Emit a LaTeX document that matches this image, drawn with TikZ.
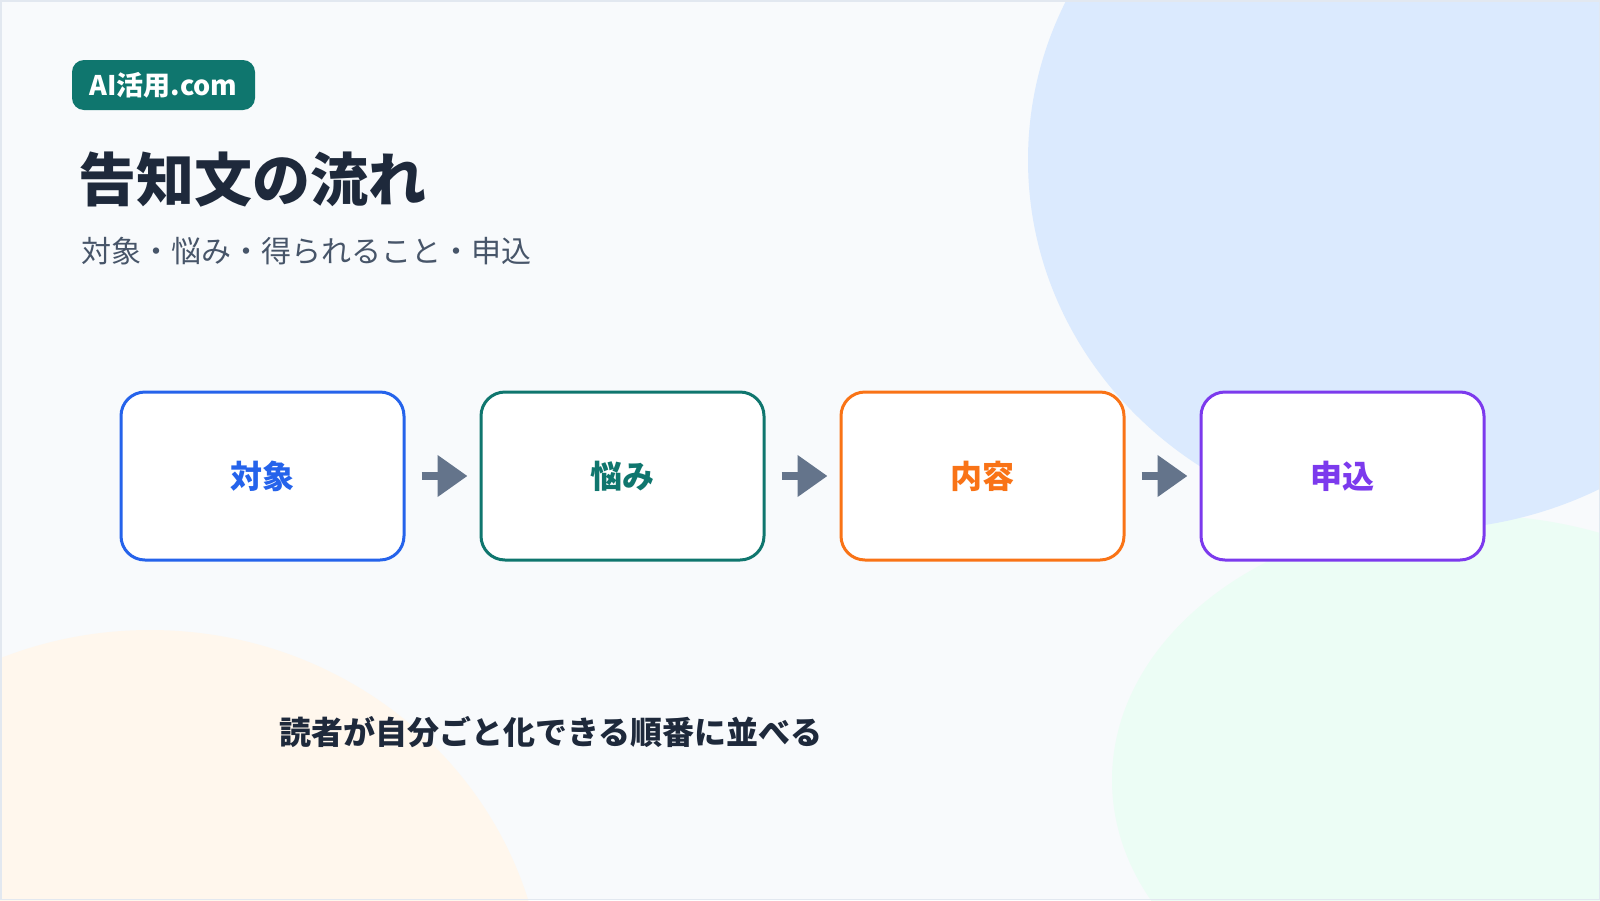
\documentclass[tikz,border=0pt]{standalone}
\usepackage{fontspec}
\setmainfont{Noto Sans CJK JP}
\usetikzlibrary{arrows.meta}
\definecolor{pagebg}{HTML}{F8FAFC}
\definecolor{pageline}{HTML}{E2E8F0}
\definecolor{blobblue}{HTML}{DBEAFE}
\definecolor{blobgreen}{HTML}{ECFDF5}
\definecolor{blobpeach}{HTML}{FFF7ED}
\definecolor{inkdark}{HTML}{1E293B}
\definecolor{inkgray}{HTML}{475569}
\definecolor{arrowgray}{HTML}{64748B}
\definecolor{stepblue}{HTML}{2563EB}
\definecolor{stepteal}{HTML}{0F766E}
\definecolor{steporange}{HTML}{F97316}
\definecolor{steppurple}{HTML}{7C3AED}
\tikzset{
  stepbox/.style={draw=#1,text=#1,fill=white,line width=3pt,rounded corners=24pt,
    minimum width=283pt,minimum height=168pt,inner sep=0pt,
    font=\fontsize{32}{36}\selectfont\bfseries},
  flowarrow/.style={draw=arrowgray,line width=8pt,
    -{Triangle[length=30pt,width=40pt]},shorten <=16pt,shorten >=12pt},
  plaintext/.style={anchor=west,inner sep=0pt}
}
\begin{document}
\begin{tikzpicture}[x=1pt,y=-1pt]
  \fill[pagebg] (0,0) rectangle (1600,900);
  \begin{scope}
    \clip (0,0) rectangle (1600,900);
    \fill[blobgreen] (1470,780) ellipse [x radius=358, y radius=265];
    \fill[blobblue] (1420,160) ellipse [x radius=392, y radius=370];
    \fill[blobpeach] (150,1010) ellipse [x radius=395, y radius=380];
  \end{scope}
  \draw[pageline,line width=1.5pt] (0.75,0.75) rectangle (1599.25,899.25);
  % badge and headings
  \node[fill=stepteal,text=white,rounded corners=12pt,minimum width=183pt,
    minimum height=50pt,inner sep=0pt,font=\fontsize{27}{30}\selectfont\bfseries]
    (badge) at (163.5,85) {AI活用.com};
  \node[plaintext,text=inkdark,font=\fontsize{58}{62}\selectfont\bfseries]
    (title) at (78,180) {告知文の流れ};
  \node[plaintext,text=inkgray,font=\fontsize{30}{34}\selectfont]
    (subtitle) at (81,251) {対象・悩み・得られること・申込};
  % steps
  \foreach \x/\name/\txt/\col in {262.5/target/対象/stepblue,622.5/worry/悩み/stepteal,
      982.5/content/内容/steporange,1342.5/apply/申込/steppurple} {
    \node[stepbox=\col] (\name) at (\x,476) {\txt};
  }
  \foreach \a/\b in {target/worry,worry/content,content/apply}
    \draw[flowarrow] (\a) -- (\b);
  \node[plaintext,text=inkdark,font=\fontsize{32}{36}\selectfont\bfseries]
    (note) at (279,732) {読者が自分ごと化できる順番に並べる};
\end{tikzpicture}
\end{document}
